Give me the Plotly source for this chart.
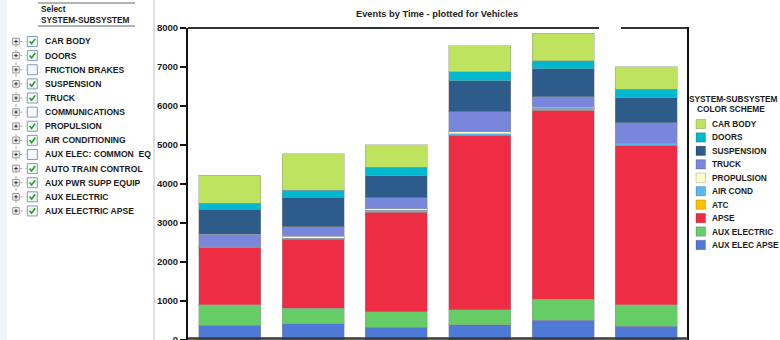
import plotly.graph_objects as go

# ---------------- data ----------------
categories = ["T1", "T2", "T3", "T4", "T5", "T6"]

# stacked bottom -> top
aux_elec_apse = [377, 421, 326, 395, 506, 359]
aux_electric = [532, 393, 393, 385, 539, 550]
apse = [1470, 1771, 2557, 4470, 4851, 4091]
atc = [0, 10, 20, 0, 0, 0]
air_cond = [10, 20, 25, 45, 45, 50]
propulsion = [5, 40, 45, 40, 25, 0]
truck = [312, 255, 279, 518, 272, 520]
suspension = [649, 755, 573, 795, 711, 642]
doors = [146, 170, 213, 232, 205, 216]
car_body = [727, 942, 575, 659, 711, 580]

series_names = ["AUX ELEC APSE", "AUX ELECTRIC", "APSE", "ATC", "AIR COND",
                "PROPULSION", "TRUCK", "SUSPENSION", "DOORS", "CAR BODY"]
series_values = [aux_elec_apse, aux_electric, apse, atc, air_cond,
                 propulsion, truck, suspension, doors, car_body]
series_colors = ["#4f79d6", "#66cc66", "#ee2d45", "#ffc000", "#5bb8ee",
                 "#ffffcc", "#7887dc", "#2d5b8a", "#00b8cf", "#bde35f"]

y_ticks = [0, 1000, 2000, 3000, 4000, 5000, 6000, 7000, 8000]

subsystems = ["CAR BODY", "DOORS", "FRICTION BRAKES", "SUSPENSION", "TRUCK",
              "COMMUNICATIONS", "PROPULSION", "AIR CONDITIONING",
              "AUX ELEC: COMMON  EQ", "AUTO TRAIN CONTROL", "AUX PWR SUPP EQUIP",
              "AUX ELECTRIC", "AUX ELECTRIC APSE"]
subsystem_checked = [True, True, False, True, True, False, True, True,
                     False, True, True, True, True]

title_text = "Events by Time - plotted for Vehicles"
legend_title = ["SYSTEM-SUBSYSTEM", "COLOR SCHEME"]
panel_title = ["Select", "SYSTEM-SUBSYSTEM"]

# ---------------- geometry ----------------
W, H = 780, 340
L, R, T, B = 188, 92, 28, 0
PW, PH = W - L - R, H - T - B
FONT = "Liberation Sans, Arial, sans-serif"


def px(x):
    return (x - L) / PW


def py(y):
    return (H - B - y) / PH


fig = go.Figure()
for name, vals, col in zip(series_names, series_values, series_colors):
    fig.add_trace(go.Bar(
        x=categories, y=vals, name=name, showlegend=False,
        marker=dict(color=col, line=dict(color="rgba(150,150,150,0.45)", width=1)),
    ))

shapes = []
annotations = []


def line(x0, y0, x1, y1, color, width=1, dash=None):
    d = dict(type="line", xref="paper", yref="paper",
             x0=px(x0), y0=py(y0), x1=px(x1), y1=py(y1),
             line=dict(color=color, width=width))
    if dash:
        d["line"]["dash"] = dash
    shapes.append(d)


def rect(x0, y0, x1, y1, fill, lc, lw=1):
    shapes.append(dict(type="rect", xref="paper", yref="paper",
                       x0=px(x0), y0=py(y0), x1=px(x1), y1=py(y1),
                       fillcolor=fill, line=dict(color=lc, width=lw)))


def text(x, y, s, size, xanchor="left", color="#1a1a1a"):
    annotations.append(dict(xref="paper", yref="paper", x=px(x), y=py(y),
                            text="<b>%s</b>" % s, showarrow=False,
                            xanchor=xanchor, yanchor="middle",
                            font=dict(family=FONT, size=size, color=color)))


# plot frame (top with gap, right, bottom)
line(188, 28, 599, 28, "#333333", 2)
line(621, 28, 688, 28, "#333333", 2)
line(688, 27, 688, 340, "#111111", 2)
line(188, 338.5, 688, 338.5, "#3a3a3a", 2.5)

# title
text(437, 14, title_text, 9.3, "center", "#222222")

# ---------------- left panel ----------------
rect(0, 0, 7, 340, "#eef4fb", "rgba(0,0,0,0)", 0)
line(154, 0, 154, 340, "#d4d4d4", 1.5)
line(38, 3, 135, 3, "#9a9a9a", 1.5)
line(38, 26, 135, 26, "#9a9a9a", 1.5)
text(39, 9.5, panel_title[0], 8.3)
text(39, 19.5, panel_title[1], 8.3)

line(16, 38, 16, 217, "#aaaaaa", 1, "dot")
for i, (nm, chk) in enumerate(zip(subsystems, subsystem_checked)):
    yi = 41.5 + 14.12 * i
    rect(12.7, yi - 3.3, 19.3, yi + 3.3, "#f4f4f4", "#9a9a9a", 1)
    line(14.2, yi, 17.8, yi, "#333333", 1)
    line(16, yi - 1.8, 16, yi + 1.8, "#333333", 1)
    line(19.5, yi, 26.5, yi, "#aaaaaa", 1, "dot")
    rect(27.3, yi - 5, 37.3, yi + 5, "#f6f8fb", "#7f9db9", 1)
    if chk:
        shapes.append(dict(type="path", xref="paper", yref="paper",
                           path="M %f,%f L %f,%f L %f,%f" % (
                               px(29.6), py(yi - 0.2), px(31.6), py(yi + 2.3),
                               px(35.2), py(yi - 2.6)),
                           line=dict(color="#21a121", width=1.6)))
    text(42.5, yi, nm, 8.6)

# ---------------- right legend ----------------
text(733, 98.7, legend_title[0], 8.3, "center")
text(731, 109.5, legend_title[1], 8.3, "center")
for j, k in enumerate(range(len(series_names) - 1, -1, -1)):
    yj = 124 + 13.44 * j
    rect(696, yj - 4.7, 705.5, yj + 4.7, series_colors[k], "rgba(0,0,0,0.18)", 1)
    text(709.5, yj, series_names[k], 8.3)

fig.update_layout(
    width=W, height=H,
    margin=dict(l=L, r=R, t=T, b=B, pad=0, autoexpand=False),
    barmode="stack", bargap=0.256,
    plot_bgcolor="white", paper_bgcolor="white",
    shapes=shapes, annotations=annotations,
    showlegend=False,
    xaxis=dict(range=[-0.5, 5.5], showticklabels=False, ticks="",
               showline=False, showgrid=False, zeroline=False, fixedrange=True,
               automargin=False),
    yaxis=dict(range=[0, 8000], tickvals=y_ticks,
               ticktext=[str(v) for v in y_ticks],
               ticks="outside", ticklen=6, tickwidth=2, tickcolor="#111111",
               showline=True, linecolor="#111111", linewidth=2,
               showgrid=False, zeroline=False, ticklabeloverflow="allow",
               automargin=False,
               tickfont=dict(family=FONT, size=9.5, color="#1a1a1a", weight="bold")),
)

fig.write_html("out.html")
